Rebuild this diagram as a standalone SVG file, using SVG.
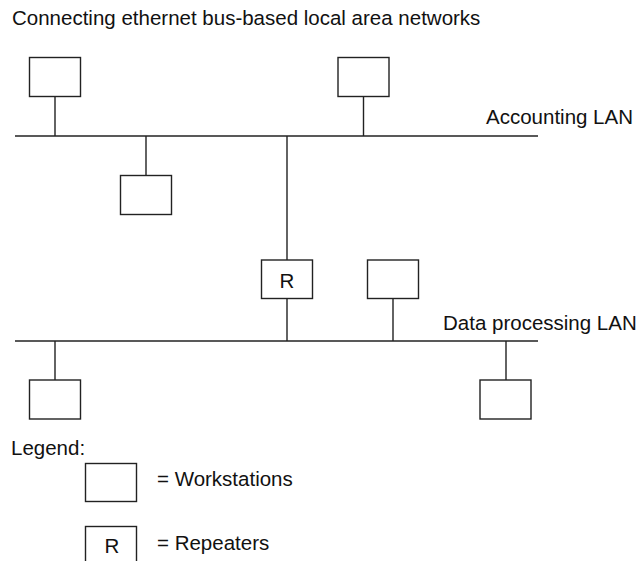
<svg xmlns="http://www.w3.org/2000/svg" width="643" height="561" viewBox="0 0 643 561">
<style>
.box{fill:#fff;stroke:#222;stroke-width:1.4}
.ln{stroke:#222;stroke-width:1.4;fill:none}
text{font-family:"Liberation Sans",Arial,Helvetica,sans-serif;font-size:20.5px;fill:#111}
.c{text-anchor:middle}
</style>
<rect width="643" height="561" fill="#fff"/>
<text x="12" y="25">Connecting ethernet bus-based local area networks</text>
<g id="connectors">
<line class="ln" x1="15" y1="136" x2="538" y2="136"/>
<line class="ln" x1="55" y1="96.5" x2="55" y2="136"/>
<line class="ln" x1="363.5" y1="96.5" x2="363.5" y2="136"/>
<line class="ln" x1="146" y1="136" x2="146" y2="175.5"/>
<line class="ln" x1="287" y1="136" x2="287" y2="260"/>
<line class="ln" x1="15" y1="341" x2="538" y2="341"/>
<line class="ln" x1="287" y1="298.5" x2="287" y2="341"/>
<line class="ln" x1="393" y1="298.5" x2="393" y2="341"/>
<line class="ln" x1="55" y1="341" x2="55" y2="380"/>
<line class="ln" x1="506" y1="341" x2="506" y2="380"/>
</g>
<g id="accounting-lan"><text x="486" y="124">Accounting LAN</text></g>
<g id="data-processing-lan"><text x="443" y="330">Data processing LAN</text></g>
<g id="ws1"><rect class="box" x="29.5" y="57.5" width="51" height="39"/></g>
<g id="ws2"><rect class="box" x="338" y="57.5" width="51" height="39"/></g>
<g id="ws3"><rect class="box" x="120.5" y="175.5" width="51" height="39"/></g>
<g id="repeater"><rect class="box" x="261.5" y="260" width="51" height="38.5"/><text class="c" x="287" y="288">R</text></g>
<g id="ws4"><rect class="box" x="367.5" y="260" width="51" height="38.5"/></g>
<g id="ws5"><rect class="box" x="29.5" y="380" width="51" height="39"/></g>
<g id="ws6"><rect class="box" x="480" y="380" width="51" height="39"/></g>
<g id="legend">
<text x="11" y="455">Legend:</text>
<rect class="box" x="85.5" y="463.5" width="51" height="38"/>
<text x="157" y="486">= Workstations</text>
<rect class="box" x="85.5" y="526.5" width="51" height="40"/>
<text class="c" x="112" y="553">R</text>
<text x="157" y="550">= Repeaters</text>
</g>
</svg>
